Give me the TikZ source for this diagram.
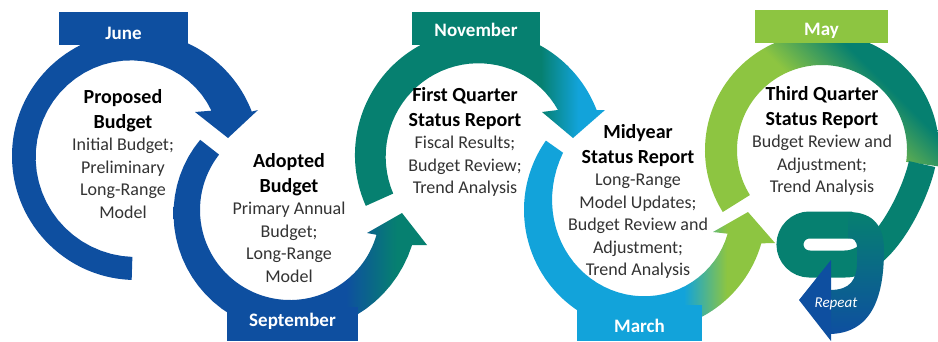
\documentclass[tikz,border=0pt]{standalone}
\usepackage{fontspec}
\setmainfont{Carlito}

\definecolor{budgetblue}{RGB}{14,79,160}
\definecolor{budgetteal}{RGB}{6,128,112}
\definecolor{budgetcyan}{RGB}{18,163,218}
\definecolor{budgetlime}{RGB}{141,197,65}

% colour runs along each band
\pgfdeclarehorizontalshading{bluetoteal}{100bp}{color(0bp)=(budgetblue); color(59bp)=(budgetblue); color(69bp)=(budgetteal); color(100bp)=(budgetteal)}
\pgfdeclarehorizontalshading{tealtocyan}{100bp}{color(0bp)=(budgetteal); color(63bp)=(budgetteal); color(70bp)=(budgetcyan); color(100bp)=(budgetcyan)}
\pgfdeclarehorizontalshading{cyantolime}{100bp}{color(0bp)=(budgetcyan); color(58bp)=(budgetcyan); color(66bp)=(budgetlime); color(100bp)=(budgetlime)}
\pgfdeclarehorizontalshading{limetoteal}{100bp}{color(0bp)=(budgetlime); color(52bp)=(budgetlime); color(66bp)=(budgetteal); color(100bp)=(budgetteal)}

\newcommand{\stagehead}[1]{{\fontsize{20}{25}\selectfont\bfseries\color{black} #1}}

\begin{document}
\begin{tikzpicture}[x=1pt, y=1pt,
  stagetext/.style={align=center, inner sep=0pt, text=black!80, font=\fontsize{18}{22.5}\selectfont},
  monthtab/.style={fill=#1, text=white, inner sep=0pt, anchor=south, font=\fontsize{19}{23}\selectfont\bfseries}]

\path[use as bounding box, fill=white] (0,0) rectangle (938,341);

% June -> September
\def\x{136}
\def\y{185}
\fill[budgetblue] ({\x+124*cos(268)}, {\y+124*sin(268)})
  arc[start angle=268, end angle=21, radius=124]
  -- (258,231) -- (228,203) -- (195,229)
  -- plot[domain=0:1, samples=40, variable=\t]
     ({\x+(101-13*(1-\t)^3)*cos(31+237*\t)}, {\y+(101-13*(1-\t)^3)*sin(31+237*\t)})
  -- cycle;

% September -> November
\def\x{290}
\def\y{131}
\shade[shading=bluetoteal]
  plot[domain=0:1, samples=40, variable=\t]
     ({\x+(114+13*\t)*cos(142+202*\t)}, {\y+(114+13*\t)*sin(142+202*\t)})
  -- (427,96) -- (402,128) -- (367,108)
  -- ({\x+90*cos(344)}, {\y+90*sin(344)})
  arc[start angle=344, end angle=142, radius=90]
  -- cycle;

% November -> March
\def\x{480}
\def\y{186}
\shade[shading=tealtocyan] ({\x+125*cos(204)}, {\y+125*sin(204)})
  arc[start angle=204, end angle=21, radius=125]
  -- (605,231) -- (573,203) -- (542,229)
  -- plot[domain=0:1, samples=40, variable=\t]
     ({\x+(90+5*\t)*cos(30+174*\t)}, {\y+(90+5*\t)*sin(30+174*\t)})
  -- cycle;

% March -> May
\def\x{645}
\def\y{131}
\shade[shading=cyantolime] ({\x+121*cos(145)}, {\y+121*sin(145)})
  arc[start angle=145, end angle=344, radius=121]
  -- (775,98) -- (748,129) -- (713,109)
  -- plot[domain=0:1, samples=40, variable=\t]
     ({\x+(86+14*\t^4)*cos(344-199*\t)}, {\y+(86+14*\t^4)*sin(344-199*\t)})
  -- cycle;

% May, then the curl back round
\def\x{822}
\def\y{191}
\shade[shading=limetoteal, shading angle=45] ({\x+117*cos(212)}, {\y+117*sin(212)})
  arc[start angle=212, end angle=-8, radius=117]
  -- ({\x+85*cos(-8)}, {\y+85*sin(-8)})
  arc[start angle=-8, end angle=212, radius=85]
  -- cycle;
\draw[budgetteal, line width=27pt] ({\x+101*cos(-8)}, {\y+101*sin(-8)})
  .. controls (916,148) and (884,77) .. (845,77) -- (809.5,77)
  arc[start angle=270, end angle=90, radius=19.5] -- (852,116);
\shade[top color=budgetteal, bottom color=budgetblue] (848,129)
  .. controls (875,129) and (884,113) .. (884,91)
  .. controls (884,41) and (870,8) .. (830,7)
  -- (830,51) .. controls (850,51) and (857,61) .. (857,79)
  -- (857,93) .. controls (857,101) and (853,103) .. (848,103)
  -- cycle;
\fill[budgetblue] (831,81) -- (799,41) -- (831,0) -- cycle;
\node[text=white, font=\fontsize{15}{18}\selectfont\itshape] (repeat) at (836,37) {Repeat};

% month tabs
\node[monthtab=budgetblue, minimum width=129pt, text depth=5.7pt, text height=26.6pt] (june) at (123.5,296) {June};
\node[monthtab=budgetblue, minimum width=131pt, text depth=14pt, text height=20.3pt] (september) at (292.5,0) {September};
\node[monthtab=budgetteal, minimum width=128pt, text depth=8.3pt, text height=24.7pt] (november) at (476,296) {November};
\node[monthtab=budgetcyan, minimum width=125pt, text depth=8pt, text height=28pt] (march) at (639.5,0) {March};
\node[monthtab=budgetlime, minimum width=133pt, text depth=7pt, text height=26pt] (may) at (821.5,298) {May};

% what happens at each stage
\node[stagetext, anchor=north] (proposed) at (123,252) {\stagehead{Proposed}\\[2.5pt]\stagehead{Budget}\\Initial Budget;\\Preliminary\\Long-Range\\Model};
\node[stagetext, anchor=north] (adopted) at (289,188) {\stagehead{Adopted}\\[2.5pt]\stagehead{Budget}\\Primary Annual\\Budget;\\Long-Range\\Model};
\node[stagetext, anchor=north] (firstquarter) at (465,254) {\stagehead{First Quarter}\\[2.5pt]\stagehead{Status Report}\\Fiscal Results;\\Budget Review;\\Trend Analysis};
\node[stagetext, anchor=north] (midyear) at (638,217) {\stagehead{Midyear}\\[2.5pt]\stagehead{Status Report}\\Long-Range\\Model Updates;\\Budget Review and\\Adjustment;\\Trend Analysis};
\node[stagetext, anchor=north] (thirdquarter) at (822,255) {\stagehead{Third Quarter}\\[2.5pt]\stagehead{Status Report}\\Budget Review and\\Adjustment;\\Trend Analysis};

\end{tikzpicture}
\end{document}
